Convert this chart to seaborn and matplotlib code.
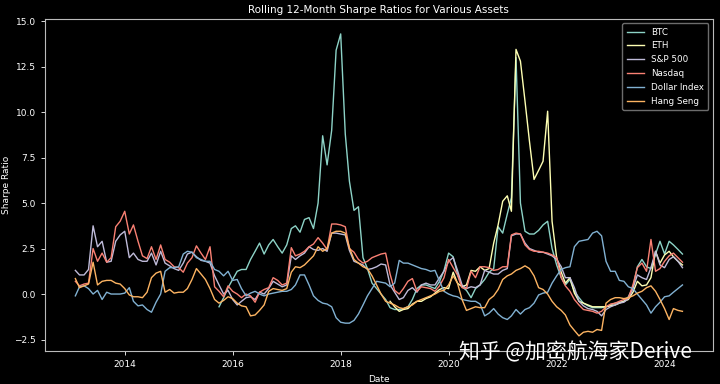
import numpy as np
import pandas as pd
import matplotlib
matplotlib.use("Agg")
import matplotlib.pyplot as plt
import seaborn as sns

dates = pd.date_range("2013-01-31", periods=136, freq="ME")

btc = [None] * 32 + [
    -0.7, -0.2, 0.35, 0.8,
    1.25, 1.35, 1.35, 1.9, 2.35, 2.8, 2.2, 2.7, 3.0, 2.6, 2.25, 2.7,
    3.6, 3.75, 3.4, 4.1, 4.2, 3.6, 5.0, 8.7, 7.1, 9.0, 13.4, 14.3,
    8.8, 6.2, 4.6, 4.8, 2.0, 1.4, 0.6, 0.3, 0.0, -0.3, -0.75, -0.85,
    -0.85, -0.8, -0.7, -0.3, 0.3, 0.5, 0.5, 0.4, 0.3, 0.7, 1.3, 2.25,
    2.05, 1.1, 0.4, 0.2, -0.2, 0.3, 0.5, 0.8, 1.2, 1.4, 3.7, 3.35,
    4.4, 5.3, 13.0, 5.0, 3.45, 3.3, 3.3, 3.5, 3.8, 4.0, 2.5, 1.6,
    0.9, 0.5, 0.8, 0.15, -0.2, -0.5, -0.65, -0.75, -0.75, -0.75, -0.7, -0.6,
    -0.5, -0.45, -0.4, -0.15, 0.35, 1.5, 1.9, 1.5, 1.4, 2.2, 2.9, 2.2,
    2.9, 2.7, 2.45, 2.2]

eth = [None] * 70 + [
    -0.4, -0.7,
    -0.95, -0.85, -0.8, -0.55, -0.4, -0.4, -0.25, -0.15, 0.05, 0.25, 0.35, 0.3,
    1.2, 0.6, 0.4, 0.5, 1.3, 1.25, 1.5, 1.3, 1.4, 2.8, 3.8, 5.1,
    5.4, 4.55, 13.45, 12.8, 10.6, 8.4, 6.3, 6.8, 7.3, 10.05, 4.0, 2.0,
    1.2, 0.6, 0.9, 0.05, -0.4, -0.5, -0.6, -0.7, -0.7, -0.7, -0.7, -0.65,
    -0.6, -0.5, -0.4, -0.3, 0.1, 0.7, 0.45, 0.5, 0.9, 2.35, 1.7, 2.15,
    2.35, 2.05, 1.8, 1.6]

sp500 = [
    1.3, 1.05, 1.05, 1.35, 3.75, 2.6, 2.9, 1.75, 1.8, 2.9, 3.25, 3.45,
    2.0, 2.25, 1.9, 1.8, 1.8, 2.25, 1.6, 2.35, 1.7, 1.55, 1.4, 1.3,
    1.7, 2.2, 2.3, 2.05, 1.85, 1.8, 1.7, 1.0, 0.5, 0.0, 0.2, -0.3,
    -0.6, -0.4, -0.2, -0.15, -0.3, 0.1, 0.0, 0.3, 0.7, 0.55, 0.4, 0.5,
    2.1, 1.9, 2.1, 2.25, 2.6, 2.45, 2.4, 2.5, 2.35, 3.35, 3.35, 3.3,
    3.25, 2.4, 1.8, 1.7, 1.6, 1.35, 1.4, 1.5, 1.65, 1.6, 0.5, 0.1,
    -0.3, -0.2, 0.2, 0.35, 0.1, 0.5, 0.6, 0.5, 0.5, 0.9, 1.25, 1.8,
    2.0, 1.3, 0.5, 0.3, 0.4, 0.35, 0.5, 1.3, 1.2, 1.1, 1.1, 1.3,
    1.4, 3.2, 3.3, 3.3, 2.8, 2.5, 2.4, 2.3, 2.3, 2.2, 2.1, 1.9,
    1.5, 0.9, 0.9, 0.35, -0.4, -0.65, -0.8, -0.85, -0.95, -1.2, -0.85, -0.7,
    -0.6, -0.5, -0.45, -0.25, 0.3, 1.05, 0.9, 0.8, 1.45, 2.35, 1.6, 1.45,
    1.9, 2.05, 1.8, 1.45]

nasdaq = [
    0.7, 0.45, 0.55, 0.6, 2.5, 1.8, 2.25, 1.75, 2.0, 3.7, 4.0, 4.55,
    3.3, 3.8, 2.9, 2.1, 1.95, 2.6, 1.9, 2.7, 1.9, 1.75, 1.5, 1.45,
    1.2, 1.7, 2.0, 2.65, 2.25, 1.9, 2.6, 0.4, 0.15, -0.15, 0.45, 0.15,
    0.0, -0.2, 0.0, -0.1, -0.45, 0.1, 0.25, 0.35, 0.9, 0.75, 0.5, 0.6,
    2.55, 2.1, 2.2, 2.35, 2.6, 2.75, 3.1, 2.8, 2.45, 3.85, 3.85, 3.8,
    3.7, 2.5, 2.3, 1.9, 1.7, 1.8, 2.0, 2.1, 2.2, 2.25, 1.1, 0.2,
    0.0, 0.3, 0.7, 0.85, 0.15, 0.4, 0.35, 0.3, 0.15, 0.45, 0.9, 1.9,
    1.45, 1.05, 0.35, 0.3, 1.25, 0.9, 1.5, 1.5, 1.45, 1.3, 1.35, 1.5,
    1.5, 3.25, 3.35, 3.3, 2.7, 2.45, 2.35, 2.35, 2.3, 2.25, 2.15, 2.0,
    0.9, 0.45, 0.15, -0.3, -0.6, -0.85, -0.9, -0.95, -1.05, -0.95, -0.7, -0.55,
    -0.5, -0.4, -0.3, -0.22, 0.5, 1.45, 1.7, 1.25, 3.0, 1.25, 1.4, 1.8,
    2.1, 2.25, 2.0, 1.75]

dollar = [
    -0.1, 0.4, 0.45, 0.3, 0.0, 0.2, -0.3, 0.1, 0.0, 0.0, 0.0, 0.05,
    0.35, -0.4, -0.65, -0.6, -0.85, -1.0, -0.45, 0.0, 1.25, 1.45, 1.45, 1.5,
    2.2, 2.35, 2.3, 2.0, 1.9, 1.8, 1.8, 1.35, 1.25, 1.0, 1.25, 0.75,
    0.8, 0.3, -0.1, 0.05, 0.15, 0.0, -0.1, 0.0, 0.05, 0.1, 0.15, 0.15,
    0.25, 0.5, 1.05, 1.05, 0.5, -0.1, -0.35, -0.5, -0.55, -0.7, -1.3, -1.55,
    -1.6, -1.6, -1.45, -1.1, -0.6, -0.1, 0.3, 0.7, 0.65, 0.6, 0.4, 0.6,
    1.85, 1.7, 1.7, 1.6, 1.5, 1.4, 1.35, 1.25, 1.3, 0.7, 0.15, 0.0,
    -0.1, -0.15, -0.3, -0.35, -0.4, -0.4, -0.55, -1.2, -1.05, -0.8, -1.1, -1.3,
    -1.4, -1.2, -0.85, -1.1, -0.85, -0.75, -0.5, -0.05, 0.05, 0.1, 0.6, 1.0,
    1.35, 1.45, 1.5, 2.6, 2.9, 2.95, 3.0, 3.35, 3.45, 3.2, 1.8, 1.25,
    1.25, 0.75, 0.7, 0.4, 0.3, 0.0, -0.3, -0.6, -1.05, -0.7, -0.45, -0.15,
    -0.1, 0.1, 0.3, 0.5]

hangseng = [
    0.85, 0.35, 0.45, 0.55, 1.75, 0.5, 0.7, 0.75, 0.75, 0.6, 0.55, 0.3,
    -0.05, -0.15, -0.15, -0.2, 0.1, 0.9, 1.15, 1.25, 0.1, 0.25, 0.05, 0.1,
    0.1, 0.3, 0.8, 1.4, 1.1, 0.8, 0.3, -0.3, -0.5, -0.35, -0.15, -0.25,
    -0.5, -0.65, -0.7, -1.2, -1.15, -0.9, -0.6, 0.15, 0.3, 0.25, 0.2, 0.3,
    1.2, 1.5, 1.45, 1.6, 1.85, 2.1, 2.6, 2.35, 2.5, 3.35, 3.45, 3.45,
    3.35, 2.55, 1.9, 1.7, 1.5, 1.4, 1.0, 0.5, 0.0, -0.4, -0.5, -0.6,
    -0.75, -0.8, -0.7, -0.6, -0.4, -0.3, -0.2, -0.1, 0.0, 0.15, 0.2, 0.5,
    1.0, 0.6, -0.3, -0.9, -0.8, -0.7, -0.75, -0.75, -0.3, -0.1, 0.25, 0.8,
    1.0, 1.1, 1.3, 1.4, 1.55, 1.4, 1.0, 0.35, 0.25, 0.0, -0.4, -0.7,
    -0.9, -1.15, -1.7, -2.0, -2.3, -2.1, -2.05, -2.1, -1.95, -2.0, -0.5, -0.3,
    -0.2, -0.2, -0.25, -0.2, -0.1, 0.05, 0.15, 0.35, 0.45, 0.15, -0.3, -0.8,
    -1.4, -0.8, -0.9, -0.95]

names = ["BTC", "ETH", "S&P 500", "Nasdaq", "Dollar Index", "Hang Seng"]
series = [btc, eth, sp500, nasdaq, dollar, hangseng]
colors = ["#8dd3c7", "#feffb3", "#bfbbd9", "#fa8174", "#81b1d2", "#fdb462"]

plt.style.use("dark_background")
fig = plt.figure(figsize=(7.2, 3.84), dpi=100)
ax = fig.add_axes([0.0625, 0.086, 0.9275, 0.865])

for name, vals, c in zip(names, series, colors):
    y = pd.Series(vals, index=dates, dtype=float)
    sns.lineplot(x=y.index, y=y.values, ax=ax, label=name, color=c, linewidth=1.0)

ax.set_title("Rolling 12-Month Sharpe Ratios for Various Assets", fontsize=7.5, pad=4)
ax.set_xlabel("Date", fontsize=6.5, labelpad=4)
ax.set_ylabel("Sharpe Ratio", fontsize=6.5, labelpad=2)
ax.tick_params(labelsize=6.5, length=3, width=0.6)
for s in ax.spines.values():
    s.set_linewidth(0.8)
    s.set_color("#bbbbbb")
leg = ax.legend(loc="upper right", fontsize=6.3, frameon=True, handlelength=2.0,
                labelspacing=0.55, borderpad=0.5)
leg.get_frame().set_edgecolor("#888888")
leg.get_frame().set_facecolor("black")

# platform watermark shown over the chart in the reference
fig.text(0.638, 0.082, "知乎 @加密航海家Derive", fontsize=15, color="white",
         family=["Noto Sans CJK SC", "DejaVu Sans"], va="center", ha="left")

fig.savefig("out.png", dpi=100, facecolor="black")
